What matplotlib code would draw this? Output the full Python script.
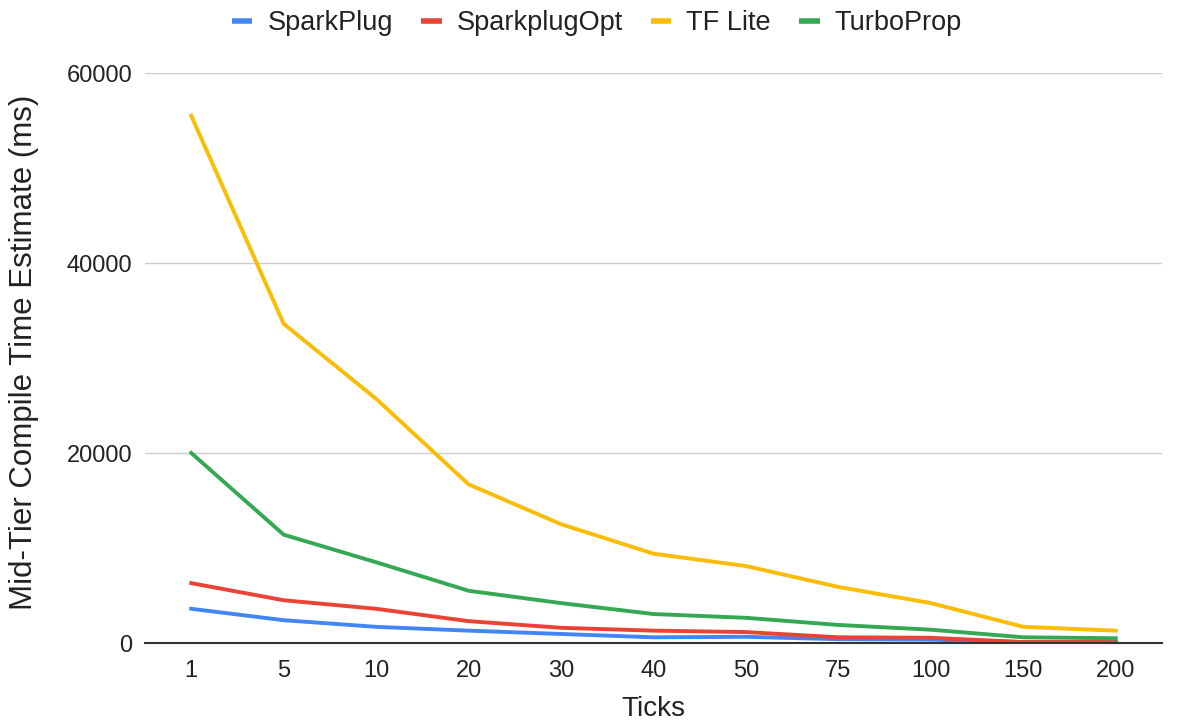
import matplotlib
matplotlib.use("Agg")
import matplotlib.pyplot as plt
from matplotlib.lines import Line2D

plt.rcParams['font.family'] = ['Liberation Sans', 'DejaVu Sans']

ticks = ["1", "5", "10", "20", "30", "40", "50", "75", "100", "150", "200"]
sparkplug = [3600, 2400, 1700, 1300, 950, 600, 650, 400, 350, 100, 100]
sparkplug_opt = [6300, 4500, 3600, 2300, 1600, 1300, 1150, 600, 550, 100, 100]
tf_lite = [55500, 33600, 25700, 16700, 12500, 9400, 8100, 5900, 4200, 1700, 1300]
turboprop = [20000, 11400, 8500, 5500, 4200, 3050, 2650, 1900, 1400, 600, 500]

series = [
    ("SparkPlug", sparkplug, "#4285F4"),
    ("SparkplugOpt", sparkplug_opt, "#EA4335"),
    ("TF Lite", tf_lite, "#FBBC04"),
    ("TurboProp", turboprop, "#34A853"),
]

fig = plt.figure(figsize=(11.8, 7.21), dpi=100)
ax = fig.add_axes([145 / 1180, 1 - 643 / 721, (1162 - 145) / 1180, (643 - 73) / 721])

x = list(range(len(ticks)))
for name, vals, color in series:
    ax.plot(x, vals, color=color, lw=2.8, label=name, solid_joinstyle='round', zorder=3)

ax.set_xlim(-0.5, len(ticks) - 0.5)
ax.set_ylim(0, 60000)
ax.set_xticks(x)
ax.set_xticklabels(ticks)
ax.set_yticks([0, 20000, 40000, 60000])
ax.set_yticklabels(["0", "20000", "40000", "60000"])
ax.grid(axis='y', color='#cccccc', lw=1, zorder=0)
ax.set_axisbelow(True)
for s in ['top', 'right', 'left']:
    ax.spines[s].set_visible(False)
ax.spines['bottom'].set_color('#333333')
ax.spines['bottom'].set_linewidth(1.5)
ax.spines['bottom'].set_zorder(4)
ax.tick_params(axis='both', length=0, labelsize=17, colors='#222222')
ax.tick_params(axis='x', pad=12)
ax.tick_params(axis='y', pad=9)
ax.set_xlabel("Ticks", fontsize=20, color='#222222')
ax.set_ylabel("Mid-Tier Compile Time Estimate (ms)", fontsize=22.5, color='#222222')
ax.xaxis.set_label_coords(0.5, -0.093)
ax.yaxis.set_label_coords(-0.104, 0.51)

handles = [Line2D([0], [0], color=c, lw=4, solid_capstyle='butt') for _, _, c in series]
fig.legend(handles, [n for n, _, _ in series], loc='center', bbox_to_anchor=(597 / 1180, 1 - 23 / 721),
           ncol=4, frameon=False, fontsize=19.5, handlelength=0.75, handletextpad=0.55,
           columnspacing=1.05, labelcolor='#222222')

fig.savefig("out.png", dpi=100)
